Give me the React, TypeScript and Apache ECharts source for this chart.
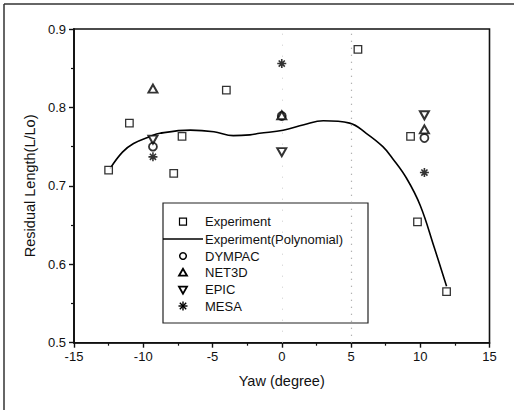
import React, { useEffect, useRef } from "react";
import * as echarts from "echarts";

const expX = [-12.5, -11, -7.8, -7.2, -4, 5.5, 9.3, 9.8, 11.9];
const expY = [0.72, 0.78, 0.716, 0.763, 0.822, 0.874, 0.763, 0.654, 0.565];

const polyX = [-12.4, -11.5, -10.7, -9.5, -8.8, -6.6, -4.9, -3.5, -2.3, -1.6, 0.1, 1.6, 3.0, 4.9, 6.1, 7.3, 8.0, 9.0, 10.0, 11.0, 11.9];
const polyY = [0.722, 0.743, 0.754, 0.763, 0.767, 0.771, 0.769, 0.764, 0.765, 0.767, 0.771, 0.778, 0.783, 0.780, 0.767, 0.750, 0.735, 0.710, 0.675, 0.622, 0.572];

const modelX = [-9.3, 0, 10.3];
const dympacY = [0.75, 0.789, 0.761];
const net3dY = [0.824, 0.79, 0.772];
const epicY = [0.759, 0.743, 0.79];
const mesaY = [0.737, 0.856, 0.717];

const seriesNames = ["Experiment", "Experiment(Polynomial)", "DYMPAC", "NET3D", "EPIC", "MESA"];
const xTicks = { min: -15, max: 15, interval: 5 };
const yTicks = { min: 0.5, max: 0.9, interval: 0.1 };

const FONT = 'Arial, "Liberation Sans", sans-serif';
const STAR = "path://M5,0L5,10M0,5L10,5M1.6,1.6L8.4,8.4M1.6,8.4L8.4,1.6";

const zip = (xs: number[], ys: number[]) => xs.map((x, i) => [x, ys[i]]);

export default function App() {
  const ref = useRef<HTMLDivElement>(null);
  useEffect(() => {
    document.body.style.margin = "0";
    const chart = echarts.init(ref.current!, null, { renderer: "svg" });
    const markerStyle = { color: "#fff", borderColor: "#000", borderWidth: 1.3 };

    // legend graphics
    const lx = 163, ly = 203, lw = 205, lh = 120;
    const rows = [221.7, 239, 256, 272.7, 289.7, 306];
    const sx = 183;
    const legendEls: any[] = [
      { type: "rect", shape: { x: lx, y: ly, width: lw, height: lh }, style: { fill: "#fff", stroke: "#222", lineWidth: 1.2 } },
      { type: "rect", shape: { x: sx - 3.5, y: rows[0] - 3.5, width: 7, height: 7 }, style: { fill: "#fff", stroke: "#000", lineWidth: 1.2 } },
      { type: "line", shape: { x1: lx, y1: rows[1], x2: 203, y2: rows[1] }, style: { stroke: "#000", lineWidth: 1.5 } },
      { type: "circle", shape: { cx: sx, cy: rows[2], r: 3.3 }, style: { fill: "#fff", stroke: "#000", lineWidth: 1.5 } },
      { type: "polygon", shape: { points: [[sx, rows[3] - 4], [sx - 4, rows[3] + 3], [sx + 4, rows[3] + 3]] }, style: { fill: "#fff", stroke: "#000", lineWidth: 1.8 } },
      { type: "polygon", shape: { points: [[sx, rows[4] + 4], [sx - 4, rows[4] - 3], [sx + 4, rows[4] - 3]] }, style: { fill: "#fff", stroke: "#000", lineWidth: 1.8 } },
      {
        type: "group",
        children: [
          { type: "line", shape: { x1: sx, y1: rows[5] - 4.5, x2: sx, y2: rows[5] + 4.5 }, style: { stroke: "#000", lineWidth: 1.4 } },
          { type: "line", shape: { x1: sx - 4.5, y1: rows[5], x2: sx + 4.5, y2: rows[5] }, style: { stroke: "#000", lineWidth: 1.4 } },
          { type: "line", shape: { x1: sx - 3.2, y1: rows[5] - 3.2, x2: sx + 3.2, y2: rows[5] + 3.2 }, style: { stroke: "#000", lineWidth: 1.4 } },
          { type: "line", shape: { x1: sx - 3.2, y1: rows[5] + 3.2, x2: sx + 3.2, y2: rows[5] - 3.2 }, style: { stroke: "#000", lineWidth: 1.4 } },
        ],
      },
      ...seriesNames.map((n, i) => ({
        type: "text",
        x: 205,
        y: rows[i],
        style: { text: n, font: `13px ${FONT}`, fill: "#111", verticalAlign: "middle", align: "left" },
      })),
    ];

    chart.setOption({
      animation: false,
      backgroundColor: "#fff",
      grid: { left: 74, right: 24.5, top: 29, bottom: 67.3, show: true, borderColor: "#111", borderWidth: 1.6 },
      xAxis: {
        type: "value",
        ...xTicks,
        name: "Yaw (degree)",
        nameLocation: "middle",
        nameGap: 31,
        nameTextStyle: { fontFamily: FONT, fontSize: 14.5, color: "#111" },
        axisLine: { show: true, onZero: false, lineStyle: { color: "#111", width: 1.6 } },
        axisTick: { show: true, length: 5, lineStyle: { color: "#111", width: 1.4 } },
        minorTick: { show: true, splitNumber: 2, length: 3, lineStyle: { color: "#111", width: 1.2 } },
        axisLabel: { fontFamily: FONT, fontSize: 13, color: "#111", margin: 7 },
        splitLine: { show: false },
      },
      yAxis: {
        type: "value",
        ...yTicks,
        name: "Residual Length(L/Lo)",
        nameLocation: "middle",
        nameGap: 36,
        nameTextStyle: { fontFamily: FONT, fontSize: 14.5, color: "#111" },
        axisLine: { show: true, onZero: false, lineStyle: { color: "#111", width: 1.8 } },
        axisTick: { show: true, length: 5, lineStyle: { color: "#111", width: 1.4 } },
        minorTick: { show: true, splitNumber: 2, length: 3, lineStyle: { color: "#111", width: 1.2 } },
        axisLabel: { fontFamily: FONT, fontSize: 13, color: "#111", margin: 8, formatter: (v: number) => v.toFixed(1) },
        splitLine: { show: false },
      },
      graphic: [
        { type: "line", shape: { x1: 4, y1: 4, x2: 514, y2: 4 }, style: { stroke: "#333", lineWidth: 1.5 } },
        { type: "line", shape: { x1: 4, y1: 4, x2: 4, y2: 410 }, style: { stroke: "#333", lineWidth: 1.5 } },
        { type: "group", z: 100, children: legendEls },
      ],
      series: [
        {
          name: seriesNames[0],
          type: "scatter",
          data: zip(expX, expY),
          symbol: "rect",
          symbolSize: 7.5,
          itemStyle: markerStyle,
          z: 5,
          markLine: {
            silent: true,
            symbol: "none",
            label: { show: false },
            lineStyle: { color: "#999", type: [1, 6], width: 1.2 },
            data: [{ xAxis: 5 }, { xAxis: 0, lineStyle: { color: "#ccc", type: [1, 10], width: 1 } }],
          },
        },
        {
          name: seriesNames[1],
          type: "line",
          data: zip(polyX, polyY),
          smooth: 0.4,
          showSymbol: false,
          symbol: "none",
          lineStyle: { color: "#000", width: 1.6 },
          z: 4,
        },
        {
          name: seriesNames[2],
          type: "scatter",
          data: zip(modelX, dympacY),
          symbol: "circle",
          symbolSize: 8,
          itemStyle: { color: "#fff", borderColor: "#000", borderWidth: 1.8 },
          z: 6,
        },
        {
          name: seriesNames[3],
          type: "scatter",
          data: zip(modelX, net3dY),
          symbol: "triangle",
          symbolSize: [9, 8],
          itemStyle: { color: "#fff", borderColor: "#000", borderWidth: 2 },
          z: 6,
        },
        {
          name: seriesNames[4],
          type: "scatter",
          data: zip(modelX, epicY),
          symbol: "triangle",
          symbolRotate: 180,
          symbolSize: [9, 8],
          itemStyle: { color: "#fff", borderColor: "#000", borderWidth: 2 },
          z: 6,
        },
        {
          name: seriesNames[5],
          type: "scatter",
          data: zip(modelX, mesaY),
          symbol: STAR,
          symbolSize: 9,
          itemStyle: { color: "none", borderColor: "#000", borderWidth: 1.6 },
          z: 6,
        },
      ],
    });
    return () => chart.dispose();
  }, []);
  return <div ref={ref} style={{ width: 514, height: 410 }} />;
}
